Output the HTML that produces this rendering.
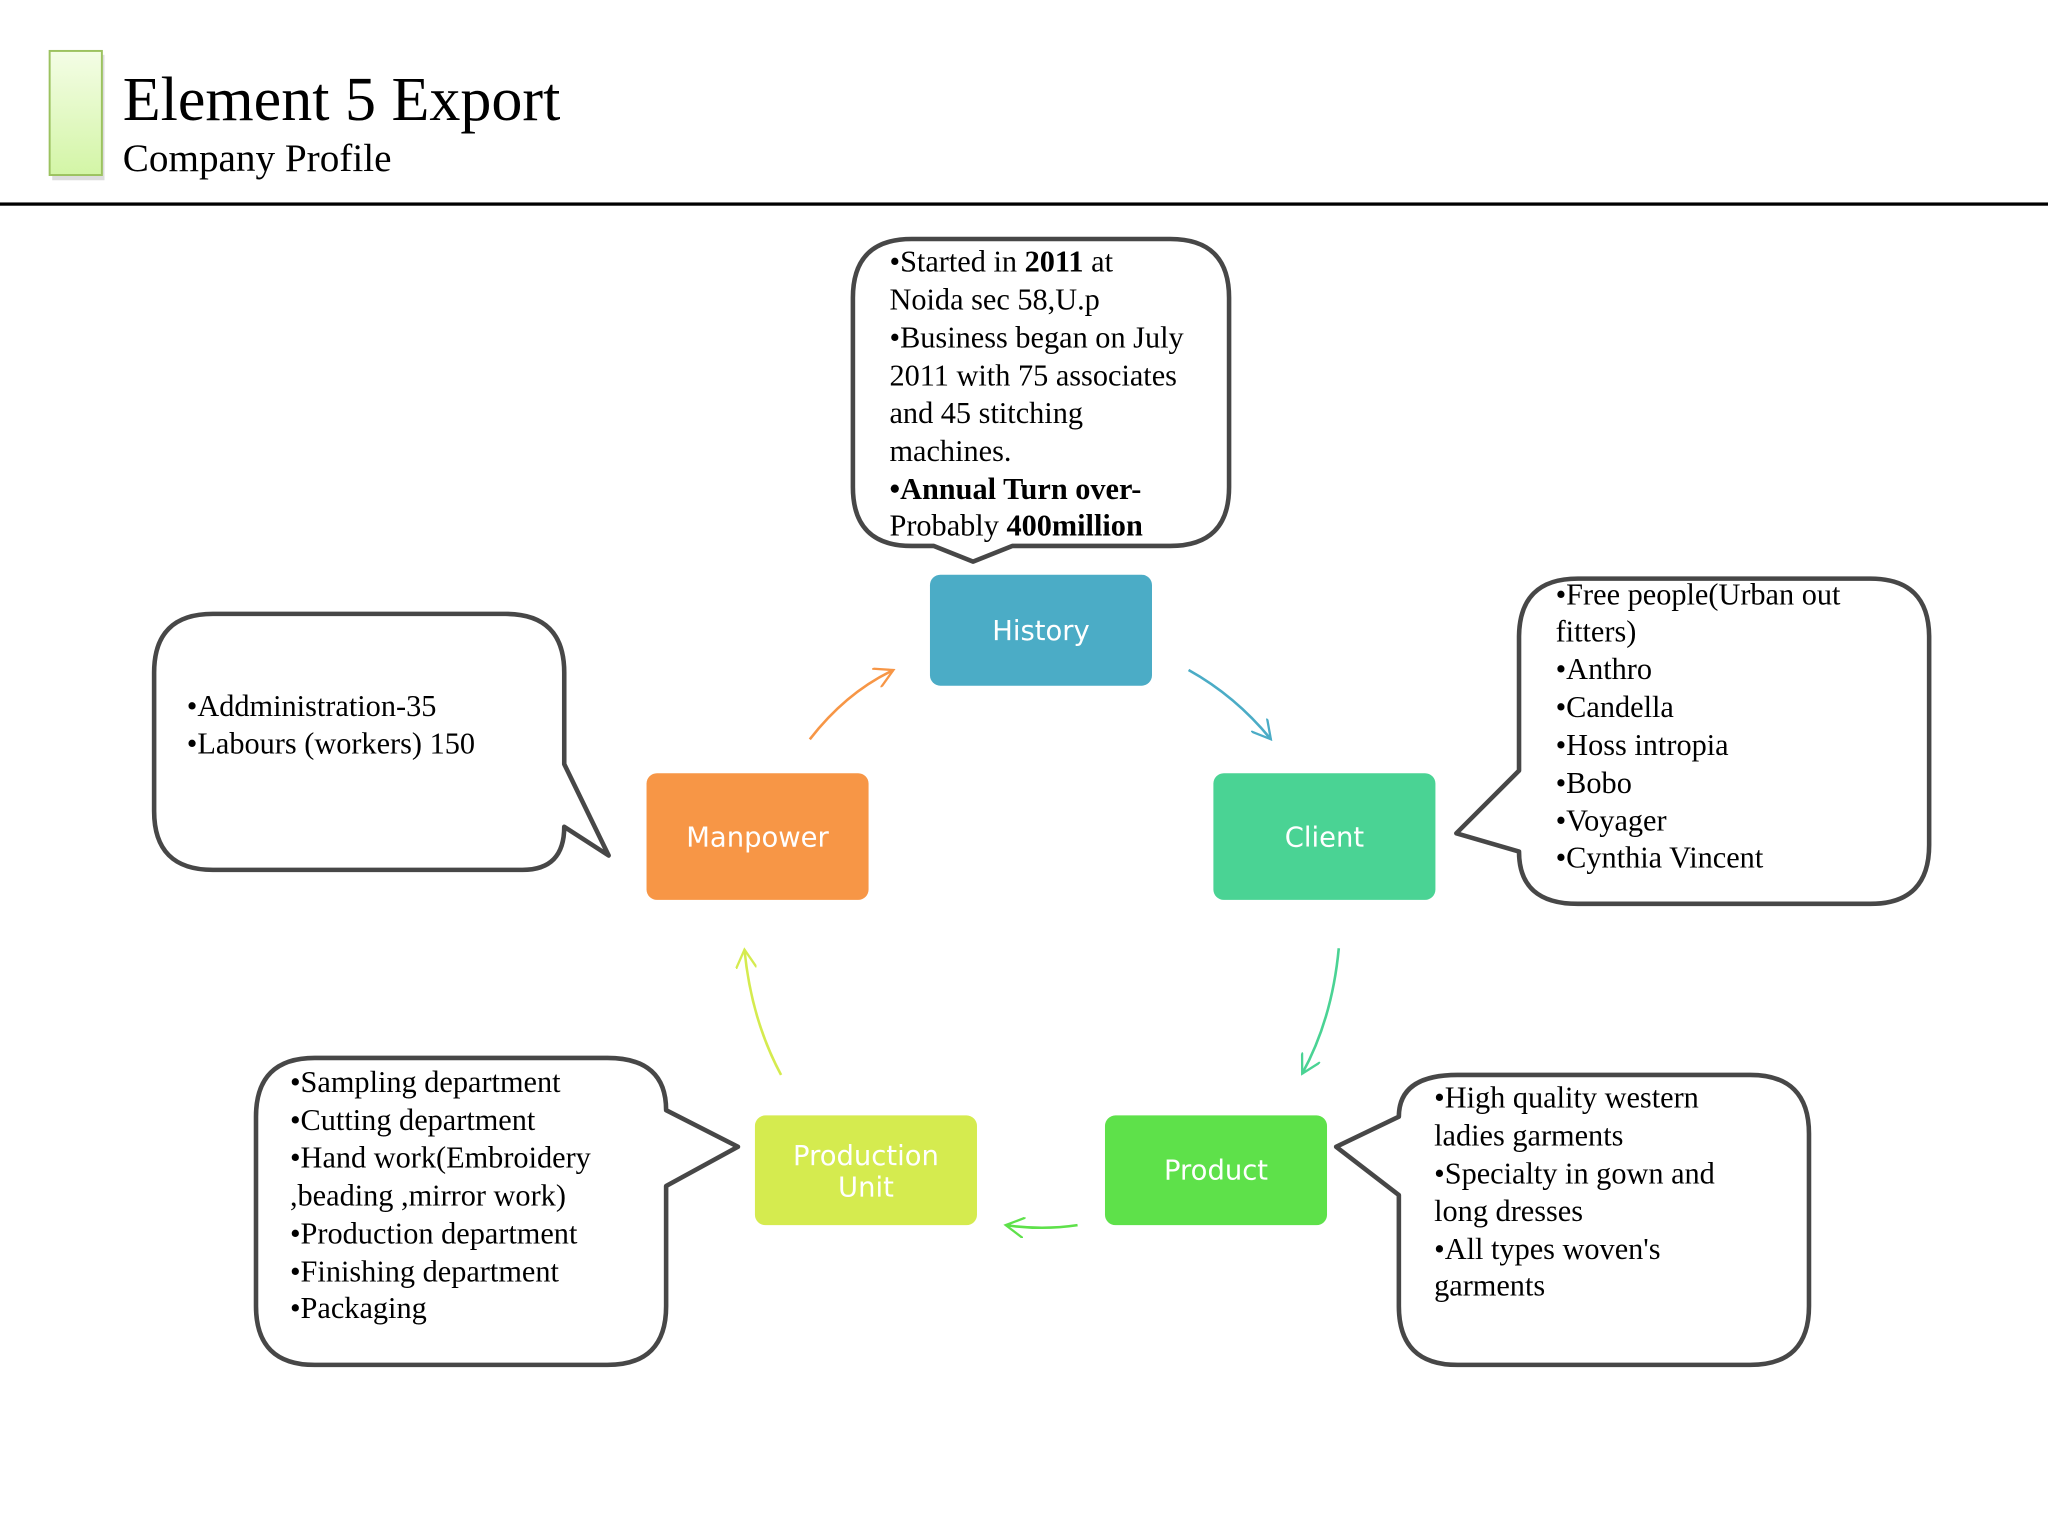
<!DOCTYPE html>
<html><head><meta charset="utf-8"><style>
html,body{margin:0;padding:0;background:#fff;}
svg{display:block;}
.t{font-family:"Liberation Serif",serif;font-size:23.2px;fill:#000;}
.n{font-family:"DejaVu Sans","Liberation Sans",sans-serif;font-size:21px;fill:#fff;text-anchor:middle;}
.c{fill:#fff;stroke:#474747;stroke-width:3.5;stroke-linejoin:round;}
</style></head><body>
<svg width="2048" height="1536" viewBox="0 0 1568 1176" preserveAspectRatio="none" xmlns="http://www.w3.org/2000/svg">
<defs>
<linearGradient id="g" x1="0" y1="0" x2="0" y2="1"><stop offset="0" stop-color="#f4fde6"/><stop offset="1" stop-color="#d3f5a6"/></linearGradient>
<marker id="a" viewBox="0 0 10 10" refX="9" refY="5" markerWidth="16" markerHeight="16" orient="auto" markerUnits="userSpaceOnUse"><path d="M0,0 L9,5 L0,10" fill="none" stroke="context-stroke" stroke-width="1.1"/></marker>
</defs>
<rect x="40" y="42" width="40" height="96" fill="#bbb" opacity="0.5"/>
<rect x="38" y="39" width="40" height="95" fill="url(#g)" stroke="#9cc260" stroke-width="1.5"/>
<text x="94" y="92" style="font-family:'Liberation Serif',serif;font-size:47.5px">Element 5 Export</text>
<text x="94" y="131" style="font-family:'Liberation Serif',serif;font-size:30px">Company Profile</text>
<rect x="0" y="155" width="1568" height="2.5" fill="#000"/>

<path class="c" d="M698,183 H896 Q941,183 941,228 V373 Q941,418 896,418 H775 L745,430 L715,418 H698 Q653,418 653,373 V228 Q653,183 698,183 Z"/>
<text class="t" x="681" y="208">•Started in <tspan font-weight="bold">2011</tspan> at</text>
<text class="t" x="681" y="237">Noida sec 58,U.p</text>
<text class="t" x="681" y="266">•Business began on July</text>
<text class="t" x="681" y="295">2011 with 75 associates</text>
<text class="t" x="681" y="324">and 45  stitching</text>
<text class="t" x="681" y="353">machines.</text>
<text class="t" x="681" y="382" font-weight="bold">•Annual Turn over-</text>
<text class="t" x="681" y="410">Probably <tspan font-weight="bold">400million</tspan></text>

<path class="c" d="M163,470 H387 Q432,470 432,515 V585 L466,655 L432,633 Q432,666 400,666 H163 Q118,666 118,621 V515 Q118,470 163,470 Z"/>
<text class="t" x="143" y="548">•Addministration-35</text>
<text class="t" x="143" y="577">•Labours (workers) 150</text>

<path class="c" d="M1208,443 H1432 Q1477,443 1477,488 V647 Q1477,692 1432,692 H1208 Q1163,692 1163,652 L1115,638 L1163,590 V488 Q1163,443 1208,443 Z"/>
<text class="t" x="1191" y="463">•Free people(Urban out</text>
<text class="t" x="1191" y="491">fitters)</text>
<text class="t" x="1191" y="520">•Anthro</text>
<text class="t" x="1191" y="549">•Candella</text>
<text class="t" x="1191" y="578">•Hoss intropia</text>
<text class="t" x="1191" y="607">•Bobo</text>
<text class="t" x="1191" y="636">•Voyager</text>
<text class="t" x="1191" y="664">•Cynthia Vincent</text>

<path class="c" d="M241,810 H465 Q510,810 510,850 L565,878 L510,908 V1000 Q510,1045 465,1045 H241 Q196,1045 196,1000 V855 Q196,810 241,810 Z"/>
<text class="t" x="222" y="836">•Sampling department</text>
<text class="t" x="222" y="865">•Cutting department</text>
<text class="t" x="222" y="894">•Hand work(Embroidery</text>
<text class="t" x="222" y="923">,beading ,mirror work)</text>
<text class="t" x="222" y="952">•Production department</text>
<text class="t" x="222" y="981">•Finishing department</text>
<text class="t" x="222" y="1009">•Packaging</text>

<path class="c" d="M1116,823 H1340 Q1385,823 1385,868 V1000 Q1385,1045 1340,1045 H1116 Q1071,1045 1071,1000 V915 L1023,878 L1071,855 Q1071,823 1116,823 Z"/>
<text class="t" x="1098" y="848">•High quality western</text>
<text class="t" x="1098" y="877">ladies garments</text>
<text class="t" x="1098" y="906">•Specialty in gown and</text>
<text class="t" x="1098" y="935">long dresses</text>
<text class="t" x="1098" y="964">•All types woven's</text>
<text class="t" x="1098" y="992">garments</text>

<rect x="712" y="440" width="170" height="85" rx="8" fill="#4BACC6"/>
<text class="n" x="797" y="490">History</text>
<rect x="929" y="592" width="170" height="97" rx="8" fill="#4AD394"/>
<text class="n" x="1014" y="648">Client</text>
<rect x="495" y="592" width="170" height="97" rx="8" fill="#F79646"/>
<text class="n" x="580" y="648">Manpower</text>
<rect x="578" y="854" width="170" height="84" rx="8" fill="#D5EB4F"/>
<text class="n" x="663" y="892">Production</text>
<text class="n" x="663" y="916">Unit</text>
<rect x="846" y="854" width="170" height="84" rx="8" fill="#5EE14A"/>
<text class="n" x="931" y="903">Product</text>

<path d="M620,566 Q648,530 684,513" fill="none" stroke="#F79646" stroke-width="2" marker-end="url(#a)"/>
<path d="M910,513 Q946,533 973,566" fill="none" stroke="#4BACC6" stroke-width="2" marker-end="url(#a)"/>
<path d="M1025,726 Q1020,780 997,822" fill="none" stroke="#4AD394" stroke-width="2" marker-end="url(#a)"/>
<path d="M825,938 Q798,942 770,938" fill="none" stroke="#5EE14A" stroke-width="2" marker-end="url(#a)"/>
<path d="M598,823 Q575,780 570,727" fill="none" stroke="#D5EB4F" stroke-width="2" marker-end="url(#a)"/>
</svg>
</body></html>
